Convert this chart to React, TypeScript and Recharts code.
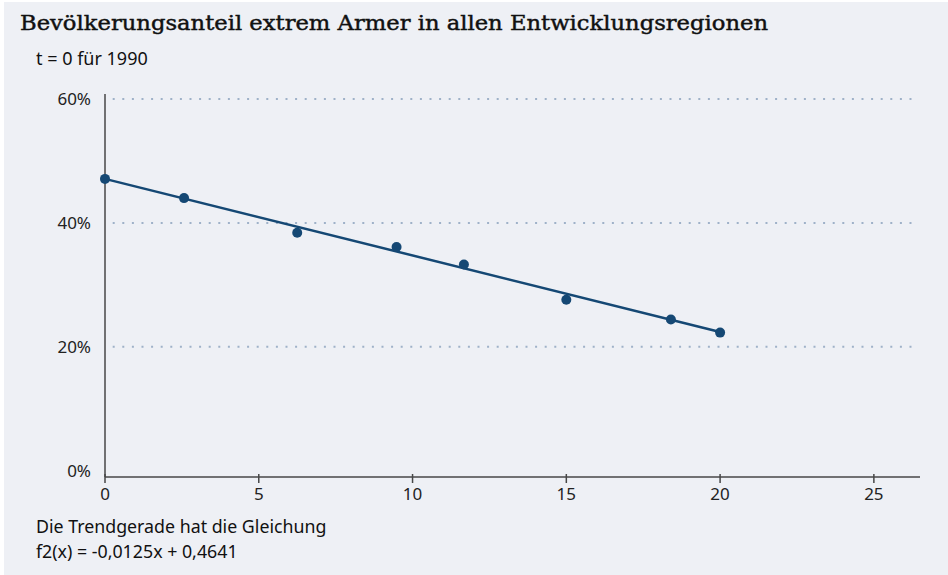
import React from "react";
import {
    ComposedChart,
    Line,
    ReferenceLine,
    Scatter,
    XAxis,
    YAxis,
} from "recharts";

// t (Jahre seit 1990) und Anteil extrem Armer in %
const years = [0, 2.57, 6.25, 9.48, 11.67, 15.0, 18.4, 20.0];
const shares = [47.1, 44.0, 38.4, 36.1, 33.3, 27.6, 24.4, 22.3];

// Trendgerade, Endpunkte
const trendX = [0, 20];
const trendY = [47.1, 22.4];

const xTicks = [0, 5, 10, 15, 20, 25];
const yTicks = [0, 20, 40, 60];
const gridLevels = [20, 40, 60];

const points = years.map((t, i) => ({ t, share: shares[i] }));
const trend = trendX.map((t, i) => ({ t, share: trendY[i] }));

const BG = "#eef0f5";
const BLUE = "#154874";
const AXIS = "#474747";
const SANS = "'Noto Sans', sans-serif";

const XTick = (props: any) => {
    const { x, y, payload } = props;
    return (
        <g>
            <line x1={x} x2={x} y1={y - 5} y2={y + 4} stroke={AXIS} strokeWidth={1.5} />
            <text
                x={x}
                y={y + 21}
                textAnchor="middle"
                fontFamily={SANS}
                fontSize={17}
                fill="#222"
            >
                {payload.value}
            </text>
        </g>
    );
};

export default function App() {
    return (
        <div
            style={{
                position: "absolute",
                left: 0,
                top: 0,
                width: 948,
                height: 575,
                background: "#fff",
            }}
        >
            <div
                style={{
                    position: "absolute",
                    left: 4,
                    top: 2,
                    width: 944,
                    height: 573,
                    background: BG,
                }}
            />
            <div style={{ position: "absolute", left: 0, top: 0 }}>
                <ComposedChart
                    width={948}
                    height={575}
                    margin={{ top: 94, right: 28, bottom: 68, left: 45 }}
                >
                    <XAxis
                        dataKey="t"
                        type="number"
                        domain={[0, 26.5]}
                        ticks={xTicks}
                        tickLine={false}
                        tickSize={0}
                        tick={<XTick />}
                        axisLine={{ stroke: AXIS, strokeWidth: 1.5 }}
                        height={30}
                    />
                    <YAxis
                        dataKey="share"
                        type="number"
                        domain={[-1, 60.8]}
                        ticks={yTicks}
                        tickLine={false}
                        tickSize={0}
                        tickMargin={14}
                        tickFormatter={(v: number) => `${v}%`}
                        tick={{ fontFamily: SANS, fontSize: 17, fill: "#222" }}
                        axisLine={{ stroke: AXIS, strokeWidth: 1.5 }}
                        width={60}
                    />
                    {gridLevels.map((lv) => (
                        <ReferenceLine
                            key={lv}
                            segment={[
                                { x: 0.25, y: lv },
                                { x: 26.3, y: lv },
                            ]}
                            stroke="#9fb1c8"
                            strokeWidth={2}
                            strokeDasharray="2 7.6"
                        />
                    ))}
                    <Line
                        data={trend}
                        dataKey="share"
                        type="linear"
                        stroke={BLUE}
                        strokeWidth={2.5}
                        dot={false}
                        activeDot={false}
                        isAnimationActive={false}
                    />
                    <Scatter
                        data={points}
                        dataKey="share"
                        fill={BLUE}
                        shape={(p: any) => <circle cx={p.cx} cy={p.cy} r={5} fill={BLUE} />}
                        isAnimationActive={false}
                    />
                </ComposedChart>
            </div>
            <svg
                width={948}
                height={575}
                style={{ position: "absolute", left: 0, top: 0, pointerEvents: "none" }}
            >
                <text
                    x={20}
                    y={30}
                    fontFamily="'DejaVu Serif', serif"
                    fontSize={21}
                    fill="#111"
                    stroke="#111"
                    strokeWidth={0.45}
                    textLength={748}
                    lengthAdjust="spacingAndGlyphs"
                >
                    Bevölkerungsanteil extrem Armer in allen Entwicklungsregionen
                </text>
                <text x={36} y={65} fontFamily={SANS} fontSize={18} fill="#111">
                    t = 0 für 1990
                </text>
                <text x={36} y={533} fontFamily={SANS} fontSize={17.8} fill="#111">
                    Die Trendgerade hat die Gleichung
                </text>
                <text x={36} y={558} fontFamily={SANS} fontSize={17.8} fill="#111">
                    f2(x) = -0,0125x + 0,4641
                </text>
            </svg>
        </div>
    );
}
